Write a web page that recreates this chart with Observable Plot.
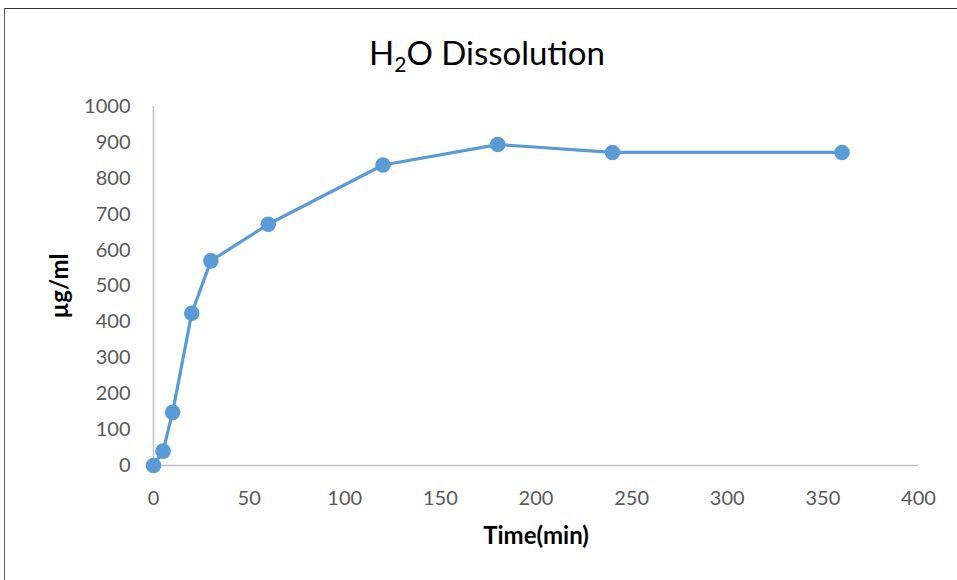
<!DOCTYPE html>
<html>
<head>
<meta charset="utf-8">
<script src="https://cdn.jsdelivr.net/npm/d3@7"></script>
<script src="https://cdn.jsdelivr.net/npm/@observablehq/plot@0.6"></script>
<style>
  html, body { margin: 0; padding: 0; background: #fff; }
  body { width: 957px; height: 580px; position: relative; overflow: hidden; font-family: Lato, "Open Sans", sans-serif; }
  #frame { position: absolute; left: 4px; top: 8px; width: 1000px; height: 700px; border-top: 1px solid #333; border-left: 1px solid #555; }
  #title { position: absolute; left: 0; width: 974px; top: 32px; text-align: center; font-size: 33px; color: #000; }
  #title sub { font-size: 21px; vertical-align: -7px; line-height: 0; }
  #chart { position: absolute; left: 0; top: 0; }
</style>
</head>
<body>
<div id="frame"></div>
<div id="title">H<sub>2</sub>O Dissolution</div>
<div id="chart"></div>
<script>
const times = [0, 5, 10, 20, 30, 60, 120, 180, 240, 360];
const conc  = [0, 40, 148, 424, 570, 672, 837, 894, 872, 872];
const xTicks = [0, 50, 100, 150, 200, 250, 300, 350, 400];
const yTicks = [0, 100, 200, 300, 400, 500, 600, 700, 800, 900, 1000];

const data = times.map((t, i) => ({t, c: conc[i]}));

const chart = Plot.plot({
  width: 957,
  height: 580,
  marginLeft: 153,
  marginRight: 39,
  marginTop: 106,
  marginBottom: 115,
  style: {fontFamily: "Lato, 'Open Sans', sans-serif", fontSize: "20px", color: "#595959", background: "transparent"},
  x: {domain: [0, 400], ticks: xTicks, label: null},
  y: {domain: [0, 1000], ticks: yTicks, label: null},
  marks: [
    Plot.axisY({ticks: yTicks, tickFormat: d3.format("d"), tickSize: 0, tickPadding: 23, fill: "#595959", label: null}),
    Plot.axisX({ticks: xTicks, tickFormat: d3.format("d"), tickSize: 0, tickPadding: 25, fill: "#595959", label: null}),
    Plot.ruleX([0], {stroke: "#bfbfbf", strokeWidth: 1.5}),
    Plot.ruleY([0], {stroke: "#bfbfbf", strokeWidth: 1.5}),
    Plot.line(data, {x: "t", y: "c", stroke: "#5b9bd5", strokeWidth: 3.2}),
    Plot.dot(data, {x: "t", y: "c", fill: "#5b9bd5", r: 7.8, stroke: "none"}),
    Plot.text(["Time(min)"], {frameAnchor: "bottom", dy: 78, fontWeight: "bold", fontSize: 24, fill: "#000", textAnchor: "middle"}),
    Plot.text(["µg/ml"], {frameAnchor: "left", dx: -93, rotate: -90, fontWeight: "bold", fontSize: 24, fill: "#000", textAnchor: "middle"})
  ]
});
document.getElementById("chart").appendChild(chart);
</script>
</body>
</html>
